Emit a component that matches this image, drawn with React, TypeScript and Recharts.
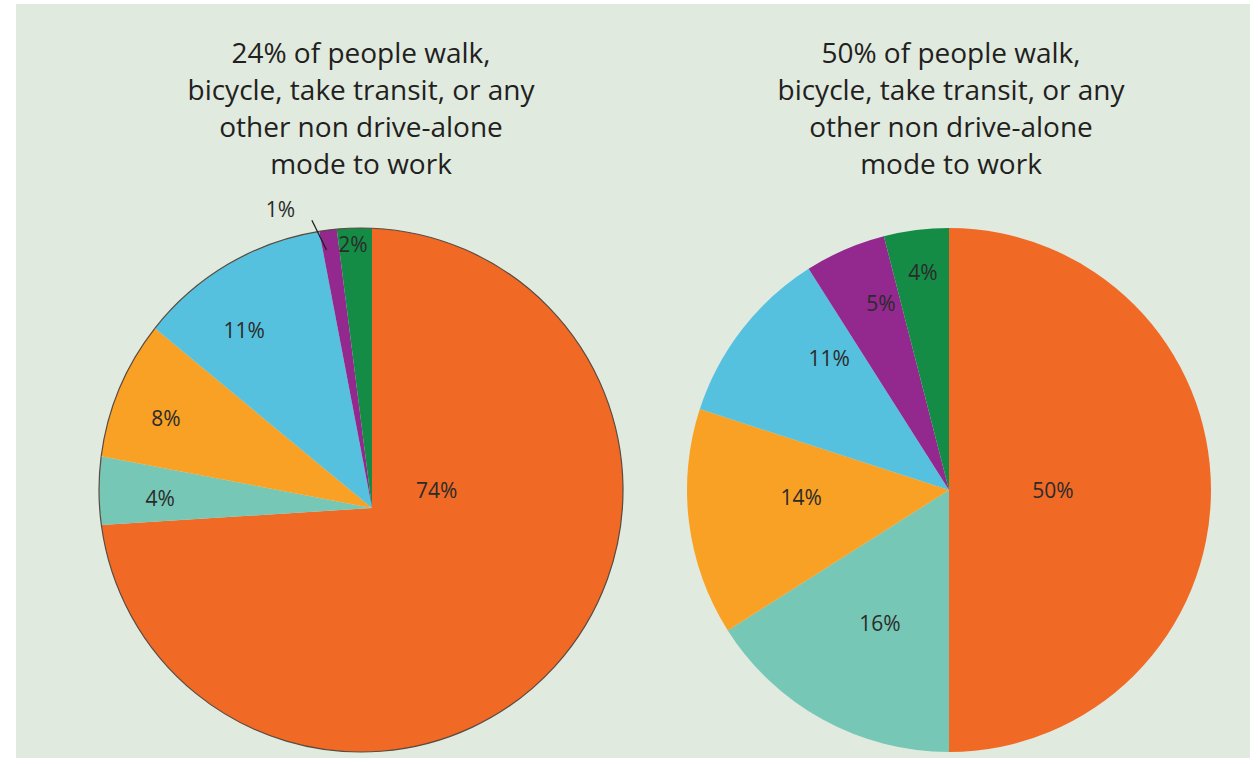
import React from 'react';
import { PieChart, Pie, Cell, Tooltip } from 'recharts';

// slices listed clockwise from 12 o'clock
const modes = ['Drive alone', 'Walk', 'Bicycle', 'Transit', 'Carpool', 'Other'];
const todayShares = [74, 4, 8, 11, 1, 2];
const goalShares = [50, 16, 14, 11, 5, 4];
const titles = [
  ['24% of people walk,', 'bicycle, take transit, or any', 'other non drive-alone', 'mode to work'],
  ['50% of people walk,', 'bicycle, take transit, or any', 'other non drive-alone', 'mode to work'],
];

const COLORS = ['#f06925', '#76c7b5', '#f8a124', '#55c1de', '#93288e', '#148c45'];
const BG = '#e0eadf';
const FONT = '"Open Sans", sans-serif';
const RAD = Math.PI / 180;

const todayData = modes.map((name, i) => ({ name, value: todayShares[i] }));
const goalData = modes.map((name, i) => ({ name, value: goalShares[i] }));

// where the rim circle sits relative to the pie apex (left pie is drawn off-centre)
const rimPoint = (cx: number, cy: number, ox: number, oy: number, R: number, deg: number) => {
  const dx = Math.cos(deg * RAD);
  const dy = -Math.sin(deg * RAD);
  const wx = -ox;
  const wy = -oy;
  const b = wx * dx + wy * dy;
  const t = -b + Math.sqrt(b * b - (wx * wx + wy * wy) + R * R);
  return [cx + t * dx, cy + t * dy];
};

const makeSector = (ox: number, oy: number, R: number, edge?: string) => (props: any) => {
  const { cx, cy, startAngle, endAngle, fill } = props;
  const [x1, y1] = rimPoint(cx, cy, ox, oy, R, startAngle);
  const [x2, y2] = rimPoint(cx, cy, ox, oy, R, endAngle);
  const ccx = cx + ox;
  const ccy = cy + oy;
  const a1 = Math.atan2(-(y1 - ccy), x1 - ccx) / RAD;
  const a2 = Math.atan2(-(y2 - ccy), x2 - ccx) / RAD;
  const cw = endAngle < startAngle;
  let span = cw ? a1 - a2 : a2 - a1;
  span = ((span % 360) + 360) % 360;
  const large = span > 180 ? 1 : 0;
  const sweep = cw ? 1 : 0;
  const arc = `A${R},${R} 0 ${large} ${sweep} ${x2},${y2}`;
  return (
    <g>
      <path d={`M${cx},${cy} L${x1},${y1} ${arc} Z`} fill={fill} stroke="none" />
      {edge && <path d={`M${x1},${y1} ${arc}`} fill="none" stroke={edge} strokeWidth={1.2} />}
    </g>
  );
};

const leftSector = makeSector(-11, -18, 262, '#5a4a40');
const rightSector = makeSector(0, 0, 262);

// [radius, angle nudge] for each label
const leftLabelPos = [[67, 58.7], [212, 0.9], [225, 1.6], [219, 5.1], [313, 8], [265, 0.5]];
const rightLabelPos = [[104, 0], [150, 1.4], [148, -4.5], [178, -9.9], [199, -3.4], [220, -0.4]];

const makeLabel = (pos: number[][], leaderIndex?: number) => (props: any) => {
  const { cx, cy, midAngle, index, value } = props;
  const [r, nudge] = pos[index];
  const a = (midAngle + nudge) * RAD;
  const x = cx + r * Math.cos(a);
  const y = cy - r * Math.sin(a);
  let leader = null;
  if (index === leaderIndex) {
    const b1 = (midAngle + 1) * RAD;
    const b2 = (midAngle + 2.8) * RAD;
    leader = (
      <line
        x1={cx + 262 * Math.cos(b1)}
        y1={cy - 262 * Math.sin(b1)}
        x2={cx + 294 * Math.cos(b2)}
        y2={cy - 294 * Math.sin(b2)}
        stroke="#231f20"
        strokeWidth={1.3}
      />
    );
  }
  return (
    <g key={`lbl-${index}`}>
      {leader}
      <text x={x} y={y} fill="#2b2b2b" textAnchor="middle" dominantBaseline="central" fontSize={21} fontFamily={FONT}>
        {`${value}%`}
      </text>
    </g>
  );
};

const titleStyle = (left: number): React.CSSProperties => ({
  position: 'absolute',
  left: left - 220,
  top: 34,
  width: 440,
  textAlign: 'center',
  fontFamily: FONT,
  fontSize: 28,
  lineHeight: '37px',
  color: '#231f20',
});

export default function App() {
  return (
    <div style={{ position: 'absolute', left: 0, top: 0, width: 1250, height: 758, background: '#fff', overflow: 'hidden' }}>
      <div style={{ position: 'absolute', left: 16, top: 4, width: 1234, height: 754, background: BG }} />
      <div style={{ position: 'absolute', left: 0, top: 0 }}>
        <PieChart width={1250} height={758} margin={{ top: 0, right: 0, bottom: 0, left: 0 }}>
          <Pie
            data={todayData}
            dataKey="value"
            nameKey="name"
            cx={372}
            cy={508}
            outerRadius={262}
            startAngle={90}
            endAngle={-270}
            stroke="none"
            isAnimationActive={false}
            shape={leftSector}
            activeShape={leftSector}
            inactiveShape={leftSector}
            labelLine={false}
            label={makeLabel(leftLabelPos, 4)}
          >
            {todayData.map((d, i) => (
              <Cell key={`today-${i}`} fill={COLORS[i]} />
            ))}
          </Pie>
          <Pie
            data={goalData}
            dataKey="value"
            nameKey="name"
            cx={949}
            cy={490}
            outerRadius={262}
            startAngle={90}
            endAngle={-270}
            stroke="none"
            isAnimationActive={false}
            shape={rightSector}
            activeShape={rightSector}
            inactiveShape={rightSector}
            labelLine={false}
            label={makeLabel(rightLabelPos)}
          >
            {goalData.map((d, i) => (
              <Cell key={`goal-${i}`} fill={COLORS[i]} />
            ))}
          </Pie>
          <Tooltip defaultIndex={0} cursor={false} content={() => null} />
        </PieChart>
      </div>
      {titles.map((lines, k) => (
        <div key={k} style={titleStyle(k === 0 ? 361 : 951)}>
          {lines.map((l, j) => (
            <div key={j}>{l}</div>
          ))}
        </div>
      ))}
    </div>
  );
}
